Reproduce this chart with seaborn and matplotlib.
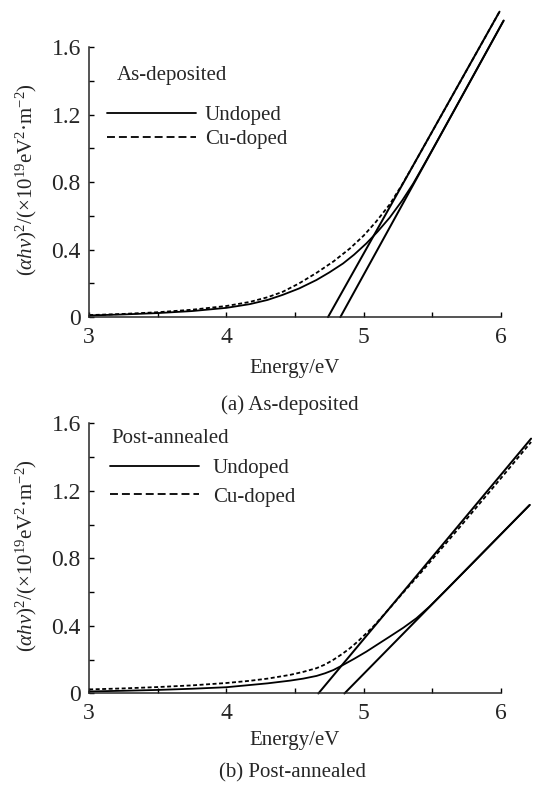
import matplotlib
matplotlib.use("Agg")
import matplotlib.pyplot as plt
from matplotlib.lines import Line2D
from matplotlib.ticker import MultipleLocator
import seaborn as sns

# ---- data ----
# (a) As-deposited
energy_a_undoped = [3.0, 3.25, 3.5, 3.75, 4.0, 4.17, 4.3, 4.41, 4.53, 4.656, 4.75, 4.85,
                    4.93, 5.02, 5.1, 5.19, 5.28, 5.36, 5.45, 5.55, 5.8, 6.02]
alpha_a_undoped = [0.010, 0.016, 0.024, 0.036, 0.055, 0.077, 0.102, 0.132, 0.170, 0.220,
                   0.265, 0.318, 0.370, 0.437, 0.505, 0.590, 0.690, 0.790, 0.918, 1.064,
                   1.432, 1.757]
energy_a_cu = [3.0, 3.25, 3.5, 3.75, 4.0, 4.17, 4.3, 4.41, 4.53, 4.656, 4.78, 4.9, 5.0,
               5.09, 5.19, 5.28, 5.37, 5.5, 5.75, 5.99]
alpha_a_cu = [0.012, 0.019, 0.029, 0.044, 0.066, 0.090, 0.118, 0.150, 0.200, 0.262, 0.330,
              0.407, 0.483, 0.565, 0.668, 0.785, 0.912, 1.100, 1.462, 1.810]
fit_a_cu_energy = [4.74, 5.99]
fit_a_cu_alpha = [0.0, 1.81]
fit_a_undoped_energy = [4.83, 6.02]
fit_a_undoped_alpha = [0.0, 1.757]

# (b) Post-annealed
energy_b_undoped = [3.0, 3.25, 3.5, 3.75, 4.0, 4.17, 4.3, 4.463, 4.56, 4.657, 4.72, 4.78,
                    4.85, 4.93, 5.02, 5.1, 5.19, 5.29, 5.385, 5.48, 5.6, 5.8, 6.0, 6.21]
alpha_b_undoped = [0.012, 0.016, 0.021, 0.028, 0.037, 0.050, 0.060, 0.076, 0.088, 0.104,
                   0.120, 0.139, 0.169, 0.205, 0.248, 0.290, 0.337, 0.390, 0.446, 0.515,
                   0.612, 0.777, 0.943, 1.117]
energy_b_cu = [3.0, 3.25, 3.5, 3.75, 4.0, 4.17, 4.3, 4.463, 4.56, 4.657, 4.72, 4.78, 4.84,
               4.9, 4.96, 5.02, 5.08, 5.14, 5.2, 5.28, 5.4, 5.7, 6.0, 6.22]
alpha_b_cu = [0.024, 0.030, 0.038, 0.048, 0.062, 0.075, 0.088, 0.110, 0.128, 0.150, 0.172,
              0.200, 0.232, 0.268, 0.310, 0.357, 0.405, 0.460, 0.515, 0.590, 0.700, 0.985,
              1.275, 1.490]
fit_b_cu_energy = [4.67, 6.22]
fit_b_cu_alpha = [0.0, 1.51]
fit_b_undoped_energy = [4.86, 6.21]
fit_b_undoped_alpha = [0.0, 1.117]

x_ticks = [3, 4, 5, 6]
x_tick_labels = ["3", "4", "5", "6"]
y_ticks = [0, 0.4, 0.8, 1.2, 1.6]
y_tick_labels = ["0", "0.4", "0.8", "1.2", "1.6"]
series_labels = ["Undoped", "Cu-doped"]

# ---- style ----
sns.set_style("ticks")
plt.rcParams["font.family"] = ["Liberation Serif", "DejaVu Serif"]
plt.rcParams["mathtext.fontset"] = "custom"
plt.rcParams["mathtext.rm"] = "Liberation Serif"
plt.rcParams["mathtext.it"] = "Liberation Serif:italic"
plt.rcParams["axes.linewidth"] = 1.1

LW = 1.3
CURVE_DASH = (0, (2.2, 1.4))
LEGEND_DASH = (0, (4.4, 2.2))
YLABEL = r"$(\mathit{\alpha h\nu})^{2}/(\times10^{19}\mathrm{eV^{2}}$·$\mathrm{m^{-2}})$"

fig = plt.figure(figsize=(5.34, 7.85), dpi=100)
ax_a = fig.add_axes([0.167, 0.596, 0.771, 0.344])
ax_b = fig.add_axes([0.167, 0.1166, 0.771, 0.344])


def draw_panel(ax, curves, fits, title, title_xy, legend_xy, label_spacing, text_pad, xlabel_y):
    for (e, a), ls in zip(curves, ["-", CURVE_DASH]):
        sns.lineplot(x=e, y=a, ax=ax, color="black", linewidth=LW, linestyle=ls,
                     sort=False, estimator=None)
    for e, a in fits:
        sns.lineplot(x=e, y=a, ax=ax, color="black", linewidth=LW * 1.1,
                     sort=False, estimator=None)
    for line in ax.get_lines():
        line.set_clip_on(False)

    ax.set_xlim(3, 6)
    ax.set_ylim(0, 1.6)
    ax.set_xticks(x_ticks, x_tick_labels)
    ax.set_yticks(y_ticks, y_tick_labels)
    ax.xaxis.set_minor_locator(MultipleLocator(0.5))
    ax.yaxis.set_minor_locator(MultipleLocator(0.2))
    ax.tick_params(which="both", direction="in", length=3.5, width=1.0, color="black")
    ax.tick_params(axis="x", labelsize=17, pad=7)
    ax.tick_params(axis="y", labelsize=17, pad=6)
    sns.despine(ax=ax)

    ax.set_xlabel("Energy/eV", fontsize=15)
    ax.xaxis.label.set_va("center")
    ax.xaxis.set_label_coords(0.5, xlabel_y)
    ax.set_ylabel(YLABEL, fontsize=15)
    ax.yaxis.label.set_va("center")
    ax.yaxis.set_label_coords(-0.152, 0.51)

    ax.text(title_xy[0], title_xy[1], title, transform=ax.transAxes,
            fontsize=15, ha="left", va="center")
    handles = [Line2D([], [], color="black", linewidth=LW, linestyle="-"),
               Line2D([], [], color="black", linewidth=LW, linestyle=LEGEND_DASH)]
    ax.legend(handles, series_labels, loc="center left", bbox_to_anchor=legend_xy,
              frameon=False, fontsize=15, handlelength=4.3, handletextpad=text_pad,
              labelspacing=label_spacing, borderpad=0, borderaxespad=0)


draw_panel(ax_a,
           [(energy_a_undoped, alpha_a_undoped), (energy_a_cu, alpha_a_cu)],
           [(fit_a_cu_energy, fit_a_cu_alpha), (fit_a_undoped_energy, fit_a_undoped_alpha)],
           "As-deposited", (0.067, 0.893), (0.043, 0.702), 0.22, 0.4, -0.189)
draw_panel(ax_b,
           [(energy_b_undoped, alpha_b_undoped), (energy_b_cu, alpha_b_cu)],
           [(fit_b_cu_energy, fit_b_cu_alpha), (fit_b_undoped_energy, fit_b_undoped_alpha)],
           "Post-annealed", (0.055, 0.943), (0.05, 0.781), 0.42, 0.65, -0.176)

fig.text(0.543, 0.484, "(a) As-deposited", fontsize=15, ha="center", va="center")
fig.text(0.547, 0.016, "(b) Post-annealed", fontsize=15, ha="center", va="center")

fig.savefig("out.png", dpi=100)
